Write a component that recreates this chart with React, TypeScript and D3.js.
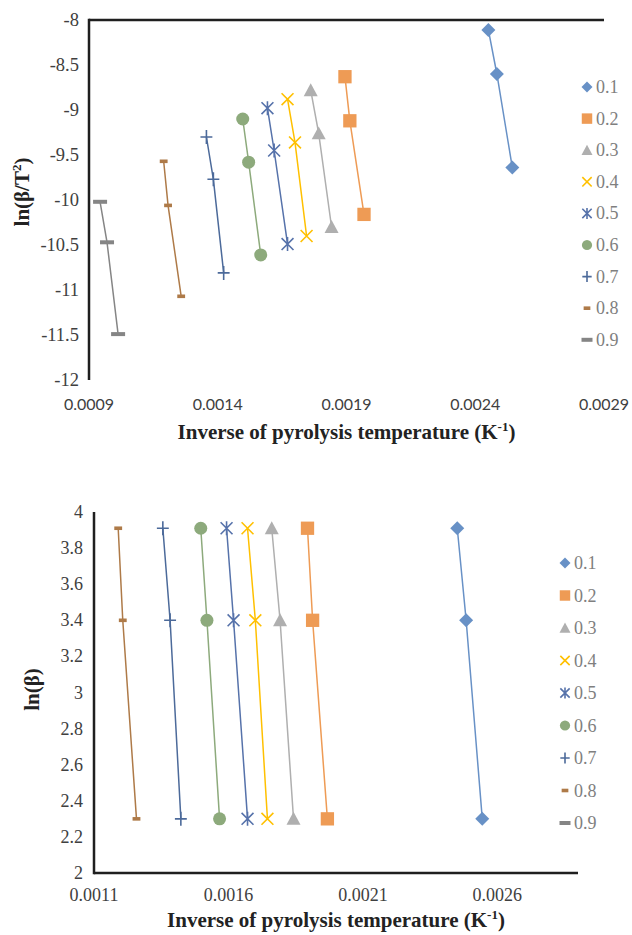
import * as d3 from "d3";

// conversion levels
const seriesNames = ["0.1", "0.2", "0.3", "0.4", "0.5", "0.6", "0.7", "0.8", "0.9"];

// 1/T for each series at the three heating rates (K^-1)
const invT01 = [0.002451, 0.002484, 0.002544];
const invT02 = [0.001894, 0.001913, 0.001968];
const invT03 = [0.001761, 0.001792, 0.001842];
const invT04 = [0.001671, 0.0017, 0.001745];
const invT05 = [0.001593, 0.001619, 0.001671];
const invT06 = [0.001497, 0.00152, 0.001567];
const invT07 = [0.001356, 0.001383, 0.001423];
const invT08 = [0.00119, 0.001207, 0.001258];
const invT09 = [0.000943, 0.00097, 0.001013];
const invT = [invT01, invT02, invT03, invT04, invT05, invT06, invT07, invT08, invT09];

// ln(beta/T^2)
const kas01 = [-8.11, -8.6, -9.64];
const kas02 = [-8.63, -9.12, -10.16];
const kas03 = [-8.78, -9.26, -10.3];
const kas04 = [-8.88, -9.36, -10.4];
const kas05 = [-8.98, -9.45, -10.49];
const kas06 = [-9.1, -9.58, -10.61];
const kas07 = [-9.3, -9.77, -10.81];
const kas08 = [-9.57, -10.06, -11.07];
const kas09 = [-10.02, -10.47, -11.49];
const kas = [kas01, kas02, kas03, kas04, kas05, kas06, kas07, kas08, kas09];

// ln(beta), same heating rates for every series
const lnBeta = [3.91, 3.4, 2.3];

const topXTicks = [0.0009, 0.0014, 0.0019, 0.0024, 0.0029];
const topYTicks = [-8, -8.5, -9, -9.5, -10, -10.5, -11, -11.5, -12];
const botXTicks = [0.0011, 0.0016, 0.0021, 0.0026];
const botYTicks = [2, 2.2, 2.4, 2.6, 2.8, 3, 3.2, 3.4, 3.6, 3.8, 4];

const colors = ["#6891c6", "#ee9b55", "#afafaf", "#ffc000", "#5672aa", "#8daa7c", "#4c6a9a", "#ae7a48", "#858585"];
const markers = ["diamond", "square", "triangle", "x", "star", "circle", "plus", "dashS", "dashL"];

const serif = "'Liberation Serif', 'Times New Roman', serif";
const axisCol = "#1f1f1f";
const tickCol = "#404040";

function Marker({ type, x, y, color, s }) {
  const h = s / 2;
  if (type === "diamond")
    return <path d={`M${x},${y - h}L${x + h},${y}L${x},${y + h}L${x - h},${y}Z`} fill={color} />;
  if (type === "square") return <rect x={x - h * 0.95} y={y - h * 0.95} width={s * 0.95} height={s * 0.95} fill={color} />;
  if (type === "triangle")
    return <path d={`M${x},${y - h}L${x + h},${y + h * 0.85}L${x - h},${y + h * 0.85}Z`} fill={color} />;
  if (type === "circle") return <circle cx={x} cy={y} r={h * 0.93} fill={color} />;
  const k = h * 0.85;
  if (type === "x")
    return <path d={`M${x - k},${y - k}L${x + k},${y + k}M${x - k},${y + k}L${x + k},${y - k}`} stroke={color} strokeWidth={1.6} />;
  if (type === "star")
    return (
      <path
        d={`M${x - k},${y - k}L${x + k},${y + k}M${x - k},${y + k}L${x + k},${y - k}M${x},${y - h}L${x},${y + h}`}
        stroke={color}
        strokeWidth={1.6}
      />
    );
  if (type === "plus")
    return <path d={`M${x - k},${y}L${x + k},${y}M${x},${y - h}L${x},${y + h}`} stroke={color} strokeWidth={1.6} />;
  if (type === "dashS") return <rect x={x - s * 0.28} y={y - 1.8} width={s * 0.56} height={3.6} fill={color} />;
  return <rect x={x - s * 0.5} y={y - 2} width={s} height={4} fill={color} />;
}

function Legend({ x, y0, step }) {
  return (
    <g>
      {seriesNames.map((name, i) => {
        const y = y0 + i * step;
        return (
          <g key={name}>
            <Marker type={markers[i]} x={x} y={y} color={colors[i]} s={markers[i] === "dashS" ? 12 : 11} />
            <text x={x + 9} y={y + 6} fontFamily={serif} fontSize={18} fill="#7f7f7f">
              {name}
            </text>
          </g>
        );
      })}
    </g>
  );
}

function TopChart() {
  const left = 89, right = 604, top = 20, bottom = 380;
  const x = d3.scaleLinear().domain([0.0009, 0.0029]).range([left, right]);
  const y = d3.scaleLinear().domain([-12, -8]).range([bottom, top]);
  const line = d3.line<number>();
  return (
    <g>
      {invT.map((xs, i) => {
        const pts = xs.map((v, j) => [x(v), y(kas[i][j])] as [number, number]);
        return (
          <g key={i}>
            <path d={line(pts) || ""} fill="none" stroke={colors[i]} strokeWidth={1.5} />
            {pts.map((p, j) => (
              <Marker key={j} type={markers[i]} x={p[0]} y={p[1]} color={colors[i]} s={14} />
            ))}
          </g>
        );
      })}
      <line x1={left} x2={right} y1={top} y2={top} stroke={axisCol} strokeWidth={2.5} />
      <line x1={left} x2={left} y1={top - 1.25} y2={bottom} stroke={axisCol} strokeWidth={2.5} />
      {topYTicks.map((t) => (
        <text key={t} x={79} y={y(t) + 6} textAnchor="end" fontFamily={serif} fontSize={18.5} fill={tickCol}>
          {t}
        </text>
      ))}
      {topXTicks.map((t) => (
        <text key={t} x={x(t)} y={410} textAnchor="middle" fontFamily="Lato, 'Open Sans', sans-serif" fontSize={16} fill={tickCol}>
          {d3.format(".4f")(t)}
        </text>
      ))}
      <text x={(left + right) / 2} y={439} textAnchor="middle" fontFamily={serif} fontWeight="bold" fontSize={21} fill="#222">
        Inverse of pyrolysis temperature (K
        <tspan fontSize={13} dy={-8}>-1</tspan>
        <tspan dy={8}>)</tspan>
      </text>
      <text transform={`translate(29,${(top + bottom) / 2 - 8}) rotate(-90)`} textAnchor="middle" fontFamily={serif} fontWeight="bold" fontSize={21} fill="#222">
        ln(β/T
        <tspan fontSize={13} dy={-8}>2</tspan>
        <tspan dy={8}>)</tspan>
      </text>
      <Legend x={587} y0={87} step={31.6} />
    </g>
  );
}

function BottomChart() {
  const left = 94, right = 578, top = 512, bottom = 873;
  const x = d3.scaleLinear().domain([0.0011, 0.0029]).range([left, right]);
  const y = d3.scaleLinear().domain([2, 4]).range([bottom, top]);
  const line = d3.line<number>();
  return (
    <g>
      <defs>
        <clipPath id="botClip">
          <rect x={left} y={top - 10} width={right - left} height={bottom - top + 10} />
        </clipPath>
      </defs>
      <g clipPath="url(#botClip)">
        {invT.map((xs, i) => {
          const pts = xs.map((v, j) => [x(v), y(lnBeta[j])] as [number, number]);
          return (
            <g key={i}>
              <path d={line(pts) || ""} fill="none" stroke={colors[i]} strokeWidth={1.5} />
              {pts.map((p, j) => (
                <Marker key={j} type={markers[i]} x={p[0]} y={p[1]} color={colors[i]} s={14} />
              ))}
            </g>
          );
        })}
      </g>
      <line x1={left} x2={right} y1={bottom} y2={bottom} stroke={axisCol} strokeWidth={2.5} />
      <line x1={left} x2={left} y1={top} y2={bottom + 1.25} stroke={axisCol} strokeWidth={2.5} />
      {botYTicks.map((t) => (
        <text key={t} x={83} y={y(t) + 6} textAnchor="end" fontFamily={serif} fontSize={18} fill={tickCol}>
          {t}
        </text>
      ))}
      {botXTicks.map((t) => (
        <text key={t} x={x(t)} y={901} textAnchor="middle" fontFamily={serif} fontSize={18} fill={tickCol}>
          {d3.format(".4f")(t)}
        </text>
      ))}
      <text x={(left + right) / 2} y={927} textAnchor="middle" fontFamily={serif} fontWeight="bold" fontSize={21} fill="#222">
        Inverse of pyrolysis temperature (K
        <tspan fontSize={13} dy={-8}>-1</tspan>
        <tspan dy={8}>)</tspan>
      </text>
      <text transform={`translate(39,${(top + bottom) / 2 - 3}) rotate(-90)`} textAnchor="middle" fontFamily={serif} fontWeight="bold" fontSize={21} fill="#222">
        ln(β)
      </text>
      <Legend x={565} y0={563} step={32.5} />
    </g>
  );
}

export default function App() {
  return (
    <svg width={632} height={935} style={{ position: "absolute", left: 0, top: 0, background: "#fff" }}>
      <TopChart />
      <BottomChart />
    </svg>
  );
}
